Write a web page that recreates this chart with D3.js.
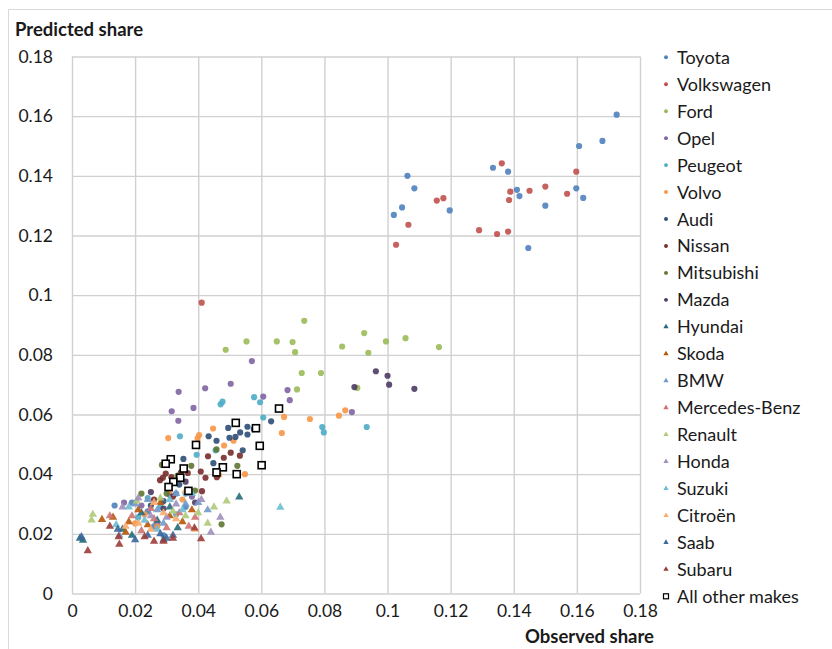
<!DOCTYPE html>
<html>
<head>
<meta charset="utf-8">
<script src="https://cdn.jsdelivr.net/npm/d3@7"></script>
<style>
  body { margin: 0; background: #fff; }
  text { font-family: Lato, "Open Sans", sans-serif; fill: #1a1a1a; }
</style>
</head>
<body>
<div id="chart"></div>
<script>
// chart size
var svgWidth = 832;
var svgHeight = 649;

// plot area edges in pixels
var plot = { left: 72, right: 640, top: 56.5, bottom: 593.5 };

// tick values for both axes
var xTicks = [0, 0.02, 0.04, 0.06, 0.08, 0.1, 0.12, 0.14, 0.16, 0.18];
var yTicks = [0, 0.02, 0.04, 0.06, 0.08, 0.1, 0.12, 0.14, 0.16, 0.18];

// series data: [observed share, predicted share]
var toyota = [[0.1726,0.1605],[0.1681,0.1517],[0.1607,0.150],[0.1334,0.1427],[0.1382,0.1414],[0.1063,0.140],[0.1085,0.1358],[0.141,0.1353],[0.1418,0.1332],[0.1598,0.1358],[0.162,0.1326],[0.150,0.130],[0.1046,0.1294],[0.102,0.1269],[0.1197,0.1284],[0.1446,0.1158],[0.019,0.0305],[0.024,0.0275],[0.029,0.0195],[0.033,0.0335],[0.036,0.029],[0.026,0.0225],[0.0135,0.0295]];
var volkswagen = [[0.1362,0.1442],[0.1598,0.1414],[0.150,0.1364],[0.145,0.135],[0.1389,0.1347],[0.1385,0.1319],[0.1569,0.134],[0.1177,0.1325],[0.1156,0.1317],[0.1066,0.1236],[0.129,0.1218],[0.1347,0.1205],[0.1382,0.1213],[0.1027,0.1169],[0.0411,0.0975]];
var ford = [[0.0736,0.0914],[0.0553,0.0845],[0.0649,0.0845],[0.0699,0.0843],[0.0707,0.0809],[0.0856,0.0828],[0.0926,0.0873],[0.0939,0.0807],[0.0995,0.0845],[0.1057,0.0856],[0.1163,0.0826],[0.0728,0.0739],[0.0789,0.0739],[0.0713,0.0684],[0.0487,0.0817],[0.0904,0.0689]];
var opel = [[0.057,0.0779],[0.0338,0.0676],[0.0422,0.0688],[0.0503,0.0703],[0.0316,0.0611],[0.0385,0.0622],[0.0337,0.0579],[0.0606,0.066],[0.0683,0.0682],[0.069,0.0648],[0.0887,0.0608],[0.022,0.0295],[0.031,0.033],[0.038,0.0325],[0.0165,0.0305],[0.027,0.0235]];
var peugeot = [[0.0577,0.0658],[0.0596,0.0641],[0.0606,0.059],[0.0793,0.0558],[0.0798,0.054],[0.0934,0.0558],[0.0471,0.0634],[0.0477,0.0643],[0.0342,0.0527],[0.0455,0.048],[0.0395,0.0465],[0.024,0.032],[0.028,0.029],[0.033,0.0265],[0.021,0.0255],[0.036,0.0335]];
var volvo = [[0.0846,0.0596],[0.0866,0.0614],[0.0665,0.0538],[0.0754,0.0585],[0.0672,0.0592],[0.0305,0.0521],[0.0403,0.0531],[0.0447,0.0553],[0.0482,0.0496],[0.0512,0.0512],[0.0548,0.04],[0.0466,0.0397],[0.0398,0.052],[0.023,0.0265],[0.027,0.0225],[0.031,0.0345],[0.035,0.0315],[0.02,0.0235]];
var audi = [[0.0433,0.0527],[0.0458,0.0512],[0.0499,0.0522],[0.0518,0.0525],[0.0533,0.054],[0.0556,0.0559],[0.0576,0.0551],[0.0631,0.0577],[0.0541,0.048],[0.0448,0.0437],[0.0353,0.0451],[0.0556,0.0533],[0.0495,0.0555],[0.029,0.031],[0.034,0.0365],[0.025,0.0295]];
var nissan = [[0.0431,0.046],[0.0481,0.0455],[0.0503,0.0472],[0.0532,0.0462],[0.0408,0.0409],[0.0423,0.0388],[0.0412,0.0343],[0.0367,0.0404],[0.0288,0.0388],[0.0297,0.0402],[0.0279,0.038],[0.0459,0.039],[0.0315,0.039],[0.0345,0.0405],[0.026,0.0315],[0.032,0.0325]];
var mitsubishi = [[0.0458,0.0483],[0.0524,0.0428],[0.0378,0.0428],[0.0285,0.0431],[0.0474,0.0232],[0.0335,0.0395],[0.03,0.0335],[0.022,0.0335],[0.039,0.0345]];
var mazda = [[0.0895,0.0692],[0.0963,0.0745],[0.1,0.073],[0.1005,0.07],[0.1085,0.0686],[0.036,0.0375],[0.025,0.034],[0.029,0.0285],[0.039,0.0305]];
var hyundai = [[0.0025,0.0185],[0.0035,0.0178],[0.016,0.0215],[0.022,0.027],[0.027,0.0245],[0.031,0.029],[0.0335,0.022],[0.053,0.0323],[0.019,0.0195],[0.029,0.018]];
var skoda = [[0.0095,0.0248],[0.013,0.0255],[0.018,0.024],[0.021,0.028],[0.024,0.023],[0.028,0.0305],[0.031,0.026],[0.035,0.024],[0.017,0.0205],[0.038,0.028]];
var bmw = [[0.015,0.0195],[0.02,0.03],[0.024,0.0315],[0.027,0.028],[0.033,0.0335],[0.036,0.03],[0.04,0.0305],[0.043,0.028],[0.029,0.0235]];
var mercedes = [[0.012,0.026],[0.019,0.026],[0.022,0.021],[0.026,0.025],[0.03,0.022],[0.034,0.027],[0.037,0.0225],[0.025,0.0285],[0.039,0.0255]];
var renault = [[0.0062,0.0246],[0.0066,0.0265],[0.0205,0.031],[0.028,0.032],[0.032,0.0275],[0.036,0.026],[0.04,0.027],[0.043,0.0235],[0.045,0.029],[0.049,0.031]];
var honda = [[0.016,0.029],[0.021,0.032],[0.025,0.026],[0.03,0.0255],[0.033,0.03],[0.037,0.0335],[0.041,0.0315],[0.047,0.0255],[0.044,0.0205]];
var suzuki = [[0.014,0.023],[0.018,0.029],[0.023,0.0245],[0.027,0.0215],[0.031,0.0315],[0.035,0.028],[0.066,0.0289],[0.038,0.0335]];
var citroen = [[0.017,0.0225],[0.021,0.0235],[0.025,0.0215],[0.029,0.027],[0.033,0.025],[0.026,0.0305],[0.036,0.0345],[0.039,0.0215]];
var saab = [[0.003,0.019],[0.0145,0.0215],[0.02,0.018],[0.024,0.0195],[0.028,0.02],[0.032,0.0195],[0.03,0.0185]];
var subaru = [[0.005,0.0143],[0.015,0.0165],[0.0148,0.019],[0.012,0.0225],[0.023,0.019],[0.026,0.0175],[0.029,0.0175],[0.032,0.0185],[0.0409,0.0183],[0.0388,0.0219]];
var otherMakes = [[0.0656,0.062],[0.0519,0.0572],[0.0583,0.0554],[0.0393,0.0498],[0.0595,0.0495],[0.0601,0.043],[0.0313,0.045],[0.0297,0.0435],[0.0354,0.0419],[0.0478,0.0423],[0.0458,0.0406],[0.0522,0.04],[0.0343,0.0388],[0.0321,0.0374],[0.0306,0.0357],[0.0369,0.0344]];

// legend names, colours and marker shapes, same order as the legend
var makes = ["Toyota", "Volkswagen", "Ford", "Opel", "Peugeot", "Volvo", "Audi", "Nissan", "Mitsubishi", "Mazda",
  "Hyundai", "Skoda", "BMW", "Mercedes-Benz", "Renault", "Honda", "Suzuki", "Citroën", "Saab", "Subaru", "All other makes"];
var makeData = [toyota, volkswagen, ford, opel, peugeot, volvo, audi, nissan, mitsubishi, mazda,
  hyundai, skoda, bmw, mercedes, renault, honda, suzuki, citroen, saab, subaru, otherMakes];
var colors = ["#4f81bd", "#c0504d", "#9bbb59", "#8064a2", "#4bacc6", "#f79646", "#2c4d75", "#772c2a", "#5f7530", "#4d3b62",
  "#276a7c", "#b65708", "#729aca", "#cd7371", "#afc97a", "#a18fbc", "#6fbdd1", "#f9ab6b", "#3a679c", "#9c3c3a", "#000"];
var shapes = ["circle", "circle", "circle", "circle", "circle", "circle", "circle", "circle", "circle", "circle",
  "triangle", "triangle", "triangle", "triangle", "triangle", "triangle", "triangle", "triangle", "triangle", "triangle", "square"];

var series = makes.map(function(name, i) {
  return { name: name, points: makeData[i], color: colors[i], shape: shapes[i] };
});

var svg = d3.select("#chart")
  .append("svg")
  .attr("width", svgWidth)
  .attr("height", svgHeight);

// outer frame of the chart (only top and left visible)
svg.append("path")
  .attr("d", "M8.5,649 L8.5,9.5 L832,9.5")
  .attr("fill", "none")
  .attr("stroke", "#d9d9d9");

var xScale = d3.scaleLinear().domain([0, 0.18]).range([plot.left, plot.right]);
var yScale = d3.scaleLinear().domain([0, 0.18]).range([plot.bottom, plot.top]);

// gridlines drawn with the axes themselves
var xAxis = d3.axisBottom(xScale)
  .tickValues(xTicks)
  .tickSize(-(plot.bottom - plot.top))
  .tickPadding(9)
  .tickFormat(d => d === 0 ? "0" : d3.format("")(+d.toFixed(2)));

var yAxis = d3.axisLeft(yScale)
  .tickValues(yTicks)
  .tickSize(-(plot.right - plot.left))
  .tickPadding(19)
  .tickFormat(d => d === 0 ? "0" : d3.format("")(+d.toFixed(2)));

var xg = svg.append("g")
  .attr("transform", `translate(0, ${plot.bottom})`)
  .call(xAxis);

var yg = svg.append("g")
  .attr("transform", `translate(${plot.left}, 0)`)
  .call(yAxis);

[xg, yg].forEach(function(g) {
  g.select(".domain").remove();
  g.selectAll(".tick line").attr("stroke", "#d0d0d0").attr("stroke-width", 1.4);
  g.selectAll(".tick text").attr("font-size", "17.5px").attr("fill", "#1a1a1a");
});
xg.selectAll(".tick text").attr("dy", "0.85em");

// markers
var circleSym = d3.symbol().type(d3.symbolCircle).size(30);
var triSym = d3.symbol().type(d3.symbolTriangle).size(30);

var pointsGroup = svg.append("g");
series.forEach(function(s) {
  var g = pointsGroup.append("g");
  if (s.shape === "square") {
    g.selectAll("rect")
      .data(s.points)
      .enter()
      .append("rect")
      .attr("x", d => xScale(d[0]) - 3.5)
      .attr("y", d => yScale(d[1]) - 3.5)
      .attr("width", 7)
      .attr("height", 7)
      .attr("fill", "#fff")
      .attr("stroke", "#000")
      .attr("stroke-width", 1.6);
  } else {
    g.selectAll("path")
      .data(s.points)
      .enter()
      .append("path")
      .attr("d", s.shape === "circle" ? circleSym : triSym)
      .attr("transform", d => `translate(${xScale(d[0])}, ${yScale(d[1])})`)
      .attr("fill", s.color)
      .attr("opacity", 0.9);
  }
});

// legend
var legend = svg.append("g").attr("transform", "translate(666, 57.3)");
var legendItems = legend.selectAll("g")
  .data(series)
  .enter()
  .append("g")
  .attr("transform", (d, i) => `translate(0, ${i * 26.95})`);

legendItems.each(function(d) {
  var item = d3.select(this);
  if (d.shape === "square") {
    item.append("rect")
      .attr("x", -2.5).attr("y", -2.5)
      .attr("width", 5).attr("height", 5)
      .attr("fill", "#fff").attr("stroke", "#000").attr("stroke-width", 1.2);
  } else {
    item.append("path")
      .attr("d", d3.symbol().type(d.shape === "circle" ? d3.symbolCircle : d3.symbolTriangle).size(12))
      .attr("fill", d.color);
  }
  item.append("text")
    .attr("x", 11)
    .attr("y", 6.5)
    .attr("font-size", "18px")
    .text(d.name);
});

// axis titles
svg.append("text")
  .attr("x", 15)
  .attr("y", 36)
  .attr("font-size", "18.5px")
  .attr("font-weight", "bold")
  .text("Predicted share");

svg.append("text")
  .attr("x", 654)
  .attr("y", 643)
  .attr("text-anchor", "end")
  .attr("font-size", "18.5px")
  .attr("font-weight", "bold")
  .text("Observed share");
</script>
</body>
</html>
